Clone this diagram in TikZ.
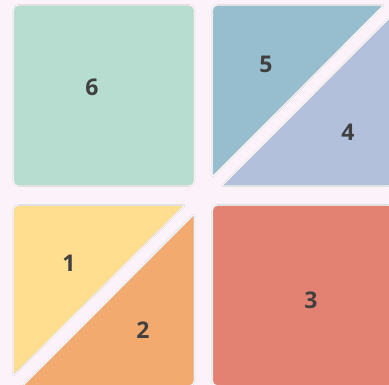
\documentclass[tikz,border=0pt]{standalone}
\usepackage{fontspec}
\setmainfont{Open Sans}
\definecolor{bgpink}{HTML}{FCF2FA}
\definecolor{cgreen}{HTML}{B7DDD0}
\definecolor{cblue}{HTML}{96BECE}
\definecolor{clav}{HTML}{B3C0DB}
\definecolor{cyellow}{HTML}{FFDF8F}
\definecolor{corange}{HTML}{F2AA6E}
\definecolor{cred}{HTML}{E38272}
\definecolor{ctext}{HTML}{404040}
\tikzset{
  tile/.style={fill=#1, draw=gray!35, line width=1.6pt},
  tileedge/.style={draw=white, line width=0.8pt},
  num/.style={text=ctext, font=\bfseries\fontsize{23}{25}\selectfont, inner sep=0pt}
}
% triangle with right angle at #1, acute corners #2 and #3
\newcommand{\tripath}[3]{($(#1)!0.5!(#2)$) [rounded corners=1.5pt] -- (#2) -- (#3) [rounded corners=5pt] -- (#1) [sharp corners] -- cycle}
\usetikzlibrary{calc}
\begin{document}
\begin{tikzpicture}[x=1pt,y=1pt]
\useasboundingbox (0,0) rectangle (389,385);
\clip (0,0) rectangle (389,385);
\fill[bgpink] (0,0) rectangle (389,385);
% corner coordinates
\coordinate (a5) at (212.3,380); \coordinate (b5) at (384,380); \coordinate (c5) at (212.3,208);
\coordinate (a4) at (393.3,199); \coordinate (b4) at (393.3,371); \coordinate (c4) at (221.6,199);
\coordinate (a1) at (13.3,180); \coordinate (b1) at (185,180); \coordinate (c1) at (13.3,9);
\coordinate (a2) at (194.3,-1); \coordinate (b2) at (22.6,-1); \coordinate (c2) at (194.3,171);
% top-left square 6
\path[tile=cgreen, rounded corners=5pt] (13.3,199) rectangle (194.3,380);
\path[tileedge, rounded corners=5pt] (13.3,199) rectangle (194.3,380);
% top-right triangles 5 and 4
\path[tile=cblue] \tripath{a5}{b5}{c5};
\path[tileedge] \tripath{a5}{b5}{c5};
\path[tile=clav] \tripath{a4}{b4}{c4};
\path[tileedge] \tripath{a4}{b4}{c4};
% bottom-left triangles 1 and 2
\path[tile=cyellow] \tripath{a1}{b1}{c1};
\path[tileedge] \tripath{a1}{b1}{c1};
\path[tile=corange] \tripath{a2}{b2}{c2};
\path[tileedge] \tripath{a2}{b2}{c2};
% bottom-right square 3
\path[tile=cred, rounded corners=5pt] (212.3,-1) rectangle (393.3,180);
\path[tileedge, rounded corners=5pt] (212.3,-1) rectangle (393.3,180);
% labels
\node[num] (n6) at (92,298) {6};
\node[num] (n5) at (266,321) {5};
\node[num] (n4) at (348,253) {4};
\node[num] (n1) at (69,122) {1};
\node[num] (n2) at (143,55) {2};
\node[num] (n3) at (311,84.5) {3};
\end{tikzpicture}
\end{document}
